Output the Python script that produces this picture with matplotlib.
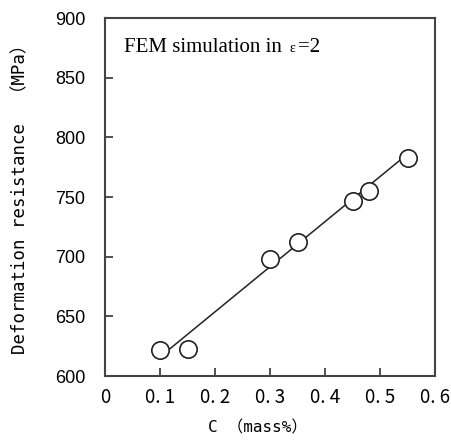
import matplotlib
matplotlib.use("Agg")
import matplotlib.pyplot as plt

carbon = [0.10, 0.15, 0.30, 0.35, 0.45, 0.48, 0.55]
resistance = [622, 623, 698, 712, 747, 755, 783]
fit_x = [0.10, 0.55]
fit_y = [616, 786]
x_ticks = [0, 0.1, 0.2, 0.3, 0.4, 0.5, 0.6]
x_tick_labels = ["0", "0. 1", "0. 2", "0. 3", "0. 4", "0. 5", "0. 6"]
y_ticks = [600, 650, 700, 750, 800, 850, 900]

W, H = 451, 440
fig = plt.figure(figsize=(W/100, H/100), dpi=100)
ax = fig.add_axes([105/W, 1-376/H, (435-105)/W, (376-18)/H])

ax.plot(fit_x, fit_y, color="#222222", lw=1.1, zorder=2)
ax.plot(carbon, resistance, linestyle="none", marker="o", markersize=12.5,
        markerfacecolor="white", markeredgecolor="#222222", markeredgewidth=1.2, zorder=3)

ax.set_xlim(0, 0.6)
ax.set_ylim(600, 900)
ax.set_xticks(x_ticks)
ax.set_xticklabels(x_tick_labels, fontfamily=["Noto Sans CJK JP"], fontsize=13.5)
ax.set_yticks(y_ticks)
ax.set_yticklabels([str(v) for v in y_ticks], fontfamily=["Liberation Sans"], fontsize=13)
ax.tick_params(axis="both", direction="in", length=6, width=1.2, color="#333333")
ax.tick_params(axis="y", which="major", pad=14)
ax.tick_params(axis="x", which="major", pad=8)
for s in ax.spines.values():
    s.set_color("#444444")
    s.set_linewidth(1.5)

lab_font = ["DejaVu Sans Mono", "Noto Sans CJK JP"]
fig.text(258/W, 1-428/H, "C （mass%）", fontfamily=lab_font, fontsize=11.5,
         ha="center", va="center")
fig.text(20/W, 1-195/H, "Deformation resistance  （MPa）", fontfamily=lab_font,
         fontsize=12.5, rotation=90, ha="center", va="center")

ax.text((124-105)/330, (376-52)/358, "FEM simulation in", transform=ax.transAxes,
        fontfamily=["Liberation Serif"], fontsize=15, va="baseline", ha="left")
ax.text((290-105)/330, (376-52)/358, "ε", transform=ax.transAxes,
        fontfamily=["Liberation Serif"], fontsize=10, va="baseline", ha="left")
ax.text((298-105)/330, (376-52)/358, "=2", transform=ax.transAxes,
        fontfamily=["Liberation Serif"], fontsize=15, va="baseline", ha="left")

fig.savefig("out.png", dpi=100)
